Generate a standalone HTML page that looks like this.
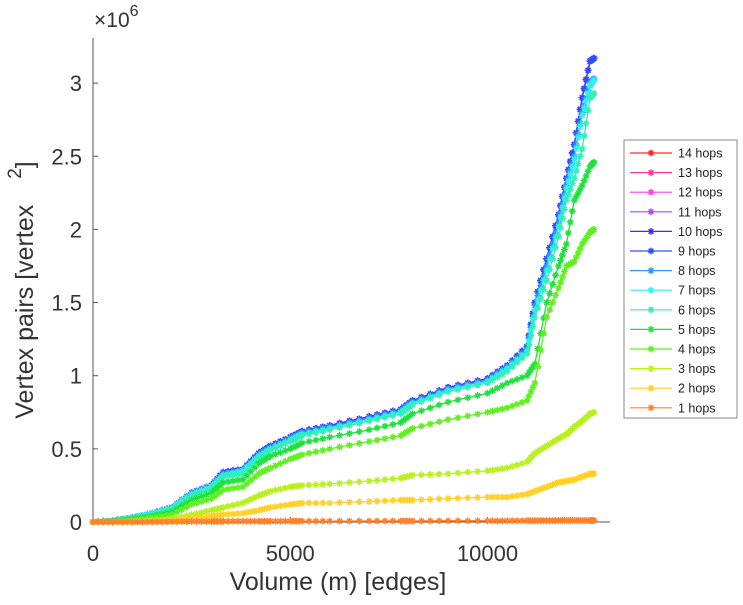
<!DOCTYPE html>
<html><head><meta charset="utf-8"><style>
body{margin:0;background:#fff;width:743px;height:600px;overflow:hidden}
svg{font-family:"Liberation Sans",sans-serif}
</style></head><body>
<svg id="c" width="743" height="600"></svg>
<script>
const xs=[0,500,1000,1500,2000,2500,3000,3300,3800,4200,4500,5000,5300,6000,7000,7800,8100,9000,10000,10500,11000,11200,11500,11800,12000,12200,12400,12600,12700];
const top9=[0,0.01,0.03,0.06,0.1,0.2,0.25,0.34,0.36,0.47,0.52,0.58,0.62,0.66,0.72,0.77,0.83,0.92,0.98,1.07,1.2,1.5,1.8,2.1,2.35,2.58,2.9,3.15,3.17];
const hops8=[0,0.01,0.03,0.06,0.1,0.2,0.25,0.33,0.355,0.46,0.51,0.57,0.61,0.65,0.71,0.76,0.82,0.91,0.97,1.06,1.18,1.48,1.75,2.05,2.3,2.5,2.8,3.0,3.03];
const hops7=[0,0.01,0.03,0.06,0.1,0.19,0.24,0.32,0.35,0.45,0.5,0.56,0.6,0.64,0.7,0.75,0.81,0.9,0.96,1.05,1.17,1.45,1.72,2.02,2.28,2.48,2.78,2.98,3.02];
const hops6=[0,0.01,0.03,0.05,0.09,0.18,0.23,0.31,0.33,0.44,0.49,0.55,0.59,0.63,0.69,0.74,0.8,0.89,0.95,1.03,1.15,1.4,1.65,1.95,2.2,2.35,2.55,2.9,2.93];
const hops5=[0,0.005,0.02,0.04,0.07,0.15,0.2,0.27,0.29,0.4,0.45,0.5,0.54,0.58,0.63,0.68,0.74,0.82,0.88,0.95,1.0,1.08,1.5,1.75,1.9,2.2,2.3,2.43,2.46];
const hops4=[0,0,0.01,0.03,0.05,0.12,0.16,0.22,0.24,0.33,0.37,0.43,0.46,0.5,0.55,0.59,0.64,0.7,0.75,0.78,0.83,0.95,1.4,1.6,1.75,1.78,1.9,1.98,2.0];
const hops3=[0,0,0.005,0.01,0.02,0.05,0.08,0.1,0.13,0.18,0.21,0.24,0.25,0.26,0.28,0.3,0.32,0.33,0.35,0.37,0.41,0.47,0.52,0.57,0.6,0.65,0.69,0.74,0.75];
const hops2=[0,0,0,0.005,0.01,0.03,0.04,0.05,0.06,0.08,0.1,0.12,0.13,0.13,0.14,0.15,0.15,0.16,0.17,0.17,0.19,0.21,0.24,0.27,0.28,0.29,0.31,0.33,0.33];
const hops1=[0,0,0,0,0.002,0.003,0.004,0.004,0.005,0.005,0.005,0.006,0.006,0.006,0.007,0.007,0.007,0.008,0.008,0.008,0.009,0.009,0.009,0.01,0.01,0.01,0.01,0.01,0.01];
const labels=["14 hops","13 hops","12 hops","11 hops","10 hops","9 hops","8 hops","7 hops","6 hops","5 hops","4 hops","3 hops","2 hops","1 hops"];
const series=[top9,top9,top9,top9,top9,top9,hops8,hops7,hops6,hops5,hops4,hops3,hops2,hops1];
const colors=["#ff2a2a","#ff3b8f","#ff40e0","#b048ff","#4a28ff","#2a50ff","#2a98ff","#30f0f0","#30f0b8","#20e040","#60f020","#b8f020","#ffd028","#ff8028"];
const xTicks=[0,5000,10000],yTicks=[0,0.5,1,1.5,2,2.5,3];
const X0=93,X1=610,Y0=522,YT=38;
const sx=v=>X0+v*0.03945, sy=v=>Y0-v*146.3;
const NS="http://www.w3.org/2000/svg",svg=document.getElementById('c');
function mk(t,a,p){const e=document.createElementNS(NS,t);for(const k in a)e.setAttribute(k,a[k]);(p||svg).appendChild(e);return e;}
let ax=mk('line',{x1:X0,y1:YT,x2:X0,y2:Y0,stroke:'#555'});

ax=mk('line',{x1:X0,y1:Y0,x2:X1,y2:Y0,stroke:'#555'});

yTicks.forEach(v=>{const y=sy(v);
 mk('line',{x1:X0,y1:y,x2:X0+5,y2:y,stroke:'#555'});
 const t=mk('text',{x:X0-11,y:y+8,'text-anchor':'end','font-size':22,fill:'#333'});t.textContent=v;
 });
xTicks.forEach(v=>{const x=sx(v);
 mk('line',{x1:x,y1:Y0,x2:x,y2:Y0-5,stroke:'#555'});
 const t=mk('text',{x:x,y:Y0+39,'text-anchor':'middle','font-size':22,fill:'#333'});t.textContent=v;
 });
let t=mk('text',{x:94,y:27,'font-size':21,fill:'#333'});t.innerHTML='×10<tspan dy="-11" font-size="16">6</tspan>';

t=mk('text',{x:338,y:590,'text-anchor':'middle','font-size':25,fill:'#333'});t.textContent='Volume (m) [edges]';

t=mk('text',{transform:'translate(33,290) rotate(-90)','text-anchor':'middle','font-size':25,fill:'#333'});t.innerHTML='Vertex pairs [vertex<tspan dx="26" dy="-12" font-size="19">2</tspan><tspan dy="12">]</tspan>';

function star(g,x,y,c){const r=3.4;
 mk('path',{d:`M${x-r} ${y}H${x+r}M${x} ${y-r}V${y+r}M${x-r*0.7} ${y-r*0.7}L${x+r*0.7} ${y+r*0.7}M${x-r*0.7} ${y+r*0.7}L${x+r*0.7} ${y-r*0.7}`,stroke:c,'stroke-width':1.4,fill:'none'},g);}
series.forEach((s,i)=>{const g=mk('g',{});
 
 
 mk('polyline',{points:xs.map((x,j)=>sx(x)+','+sy(s[j])).join(' '),fill:'none',stroke:colors[i],'stroke-width':1.3},g);
 for(let j=0;j<xs.length-1;j++){for(let k=0;k<4;k++){const f=k/4;
  star(g,sx(xs[j]+(xs[j+1]-xs[j])*f),sy(s[j]+(s[j+1]-s[j])*f),colors[i]);}}
 star(g,sx(xs[xs.length-1]),sy(s[s.length-1]),colors[i]);
});
const lg=mk('g',{});
mk('rect',{x:624,y:140,width:113,height:278,fill:'#fff',stroke:'#888'},lg);
labels.forEach((l,i)=>{const y=153+i*19.6;const e=mk('g',{},lg);
 
 mk('line',{x1:630,y1:y,x2:672,y2:y,stroke:colors[i],'stroke-width':1.2},e);star(e,651,y,colors[i]);
 const tt=mk('text',{x:678,y:y+4.5,'font-size':12.5,fill:'#222'},e);tt.textContent=l;});
</script>
</body></html>
